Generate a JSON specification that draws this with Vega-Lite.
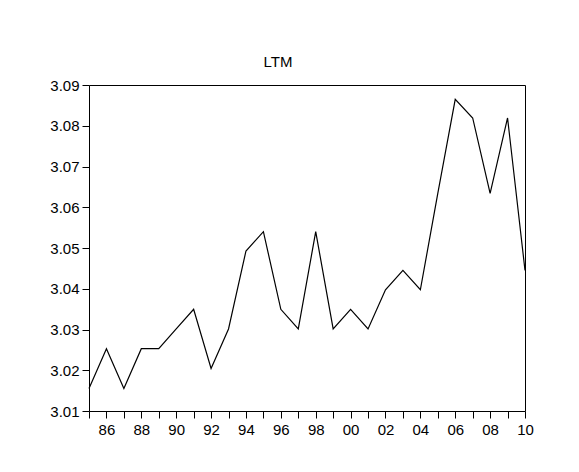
{
  "$schema": "https://vega.github.io/schema/vega-lite/v6.json",
  "width": 436,
  "height": 326,
  "autosize": {"type": "none"},
  "padding": {"left": 89, "top": 85, "right": 54, "bottom": 61},
  "background": "white",
  "title": {
    "text": "LTM",
    "font": "Liberation Sans",
    "fontSize": 15,
    "fontWeight": "normal",
    "color": "black",
    "anchor": "middle",
    "offset": 16,
    "dx": -29,
    "dy": 20,
    "baseline": "alphabetic"
  },
  "config": {
    "view": {"stroke": "black", "strokeWidth": 1},
    "axis": {
      "labelFont": "Liberation Sans",
      "labelFontSize": 15,
      "labelColor": "black",
      "tickColor": "black",
      "tickSize": 7,
      "grid": false,
      "domain": false,
      "title": null
    }
  },
  "data": {
    "values": [
      {"year": 1985, "LTM": 3.01553},
      {"year": 1986, "LTM": 3.02529},
      {"year": 1987, "LTM": 3.01553},
      {"year": 1988, "LTM": 3.02529},
      {"year": 1989, "LTM": 3.02529},
      {"year": 1990, "LTM": 3.03013},
      {"year": 1991, "LTM": 3.03495},
      {"year": 1992, "LTM": 3.02042},
      {"year": 1993, "LTM": 3.03013},
      {"year": 1994, "LTM": 3.04927},
      {"year": 1995, "LTM": 3.05400},
      {"year": 1996, "LTM": 3.03495},
      {"year": 1997, "LTM": 3.03013},
      {"year": 1998, "LTM": 3.05400},
      {"year": 1999, "LTM": 3.03013},
      {"year": 2000, "LTM": 3.03495},
      {"year": 2001, "LTM": 3.03013},
      {"year": 2002, "LTM": 3.03975},
      {"year": 2003, "LTM": 3.04452},
      {"year": 2004, "LTM": 3.03975},
      {"year": 2005, "LTM": 3.06339},
      {"year": 2006, "LTM": 3.08649},
      {"year": 2007, "LTM": 3.08191},
      {"year": 2008, "LTM": 3.06339},
      {"year": 2009, "LTM": 3.08191},
      {"year": 2010, "LTM": 3.04452}
    ]
  },
  "mark": {"type": "line", "color": "black", "strokeWidth": 1.2},
  "encoding": {
    "x": {
      "field": "year",
      "type": "quantitative",
      "scale": {"domain": [1985, 2010], "nice": false, "zero": false},
      "axis": {
        "values": [1985,1986,1987,1988,1989,1990,1991,1992,1993,1994,1995,1996,1997,1998,1999,2000,2001,2002,2003,2004,2005,2006,2007,2008,2009,2010],
        "labelExpr": "datum.value % 2 == 0 ? substring(toString(datum.value), 2) : ''",
        "labelPadding": 4,
        "labelOverlap": false,
        "labelFlush": false
      }
    },
    "y": {
      "field": "LTM",
      "type": "quantitative",
      "scale": {"domain": [3.01, 3.09], "nice": false, "zero": false},
      "axis": {
        "values": [3.01, 3.02, 3.03, 3.04, 3.05, 3.06, 3.07, 3.08, 3.09],
        "format": ".2f",
        "labelPadding": 3,
        "labelFlush": false,
        "labelOverlap": false
      }
    }
  }
}
